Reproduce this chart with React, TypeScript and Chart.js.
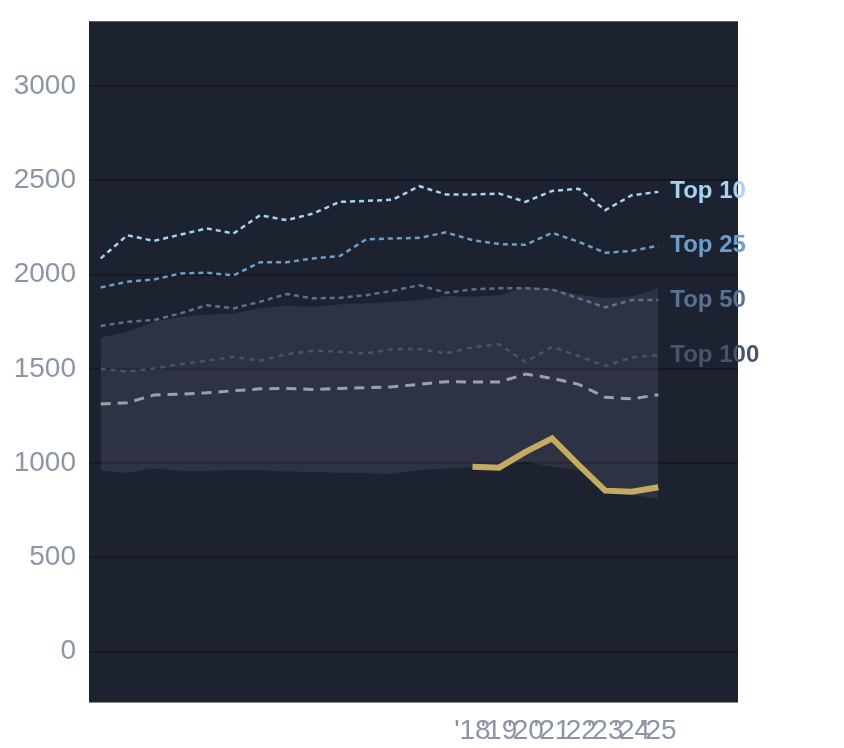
import React, { useRef, useEffect } from "react";
import { Chart, registerables } from "chart.js";

Chart.register(...registerables);

const years = [2004, 2005, 2006, 2007, 2008, 2009, 2010, 2011, 2012, 2013, 2014, 2015, 2016, 2017, 2018, 2019, 2020, 2021, 2022, 2023, 2024, 2025];
const top10 = [2086, 2209, 2179, 2212, 2245, 2218, 2315, 2289, 2324, 2386, 2391, 2398, 2469, 2425, 2425, 2430, 2386, 2444, 2455, 2342, 2421, 2439];
const top25 = [1932, 1962, 1974, 2006, 2010, 1996, 2066, 2066, 2086, 2098, 2187, 2192, 2195, 2224, 2183, 2162, 2158, 2222, 2174, 2116, 2126, 2153];
const top50 = [1727, 1750, 1759, 1794, 1838, 1821, 1856, 1897, 1874, 1877, 1891, 1914, 1944, 1904, 1921, 1928, 1928, 1921, 1874, 1826, 1865, 1865];
const top100 = [1500, 1485, 1502, 1525, 1543, 1564, 1543, 1578, 1596, 1591, 1582, 1605, 1605, 1582, 1614, 1631, 1536, 1617, 1568, 1515, 1561, 1573];
const median = [1313, 1320, 1361, 1366, 1373, 1384, 1394, 1396, 1391, 1396, 1400, 1405, 1418, 1432, 1430, 1430, 1472, 1450, 1418, 1349, 1341, 1363];
const bandHigh = [1667, 1697, 1750, 1776, 1789, 1794, 1821, 1835, 1829, 1843, 1847, 1856, 1865, 1886, 1882, 1890, 1935, 1925, 1895, 1875, 1882, 1928];
const bandLow = [960, 949, 972, 960, 960, 963, 963, 956, 953, 949, 946, 943, 963, 972, 978, 981, 1007, 981, 963, 845, 831, 808];

const goldYears = [2018, 2019, 2020, 2021, 2022, 2023, 2024, 2025];
const goldValues = [981, 976, 1060, 1131, 990, 854, 848, 872];

const xTicks = [2018, 2019, 2020, 2021, 2022, 2023, 2024, 2025];
const yTicks = [0, 500, 1000, 1500, 2000, 2500, 3000];

const pts = (xs: number[], ys: number[]) => xs.map((x, i) => ({ x, y: ys[i] }));

const plotBg = {
  id: "plotBg",
  beforeDraw(chart: any) {
    const { ctx, chartArea } = chart;
    ctx.save();
    ctx.fillStyle = "#1d2230";
    ctx.fillRect(chartArea.left, chartArea.top, chartArea.right - chartArea.left, chartArea.bottom - chartArea.top);
    ctx.restore();
  },
};

// names at the end of each tier line
const endLabels = {
  id: "endLabels",
  afterDatasetsDraw(chart: any) {
    const { ctx } = chart;
    ctx.save();
    ctx.font = "bold 24px 'Liberation Sans', Arial, sans-serif";
    ctx.textBaseline = "middle";
    ctx.textAlign = "left";
    chart.data.datasets.forEach((ds: any, i: number) => {
      if (!ds.tag) return;
      const meta = chart.getDatasetMeta(i);
      const last = meta.data[meta.data.length - 1];
      ctx.fillStyle = ds.borderColor;
      ctx.fillText(ds.tag, last.x + 12, last.y);
    });
    ctx.restore();
  },
};

const App = () => {
  const canvasRef = useRef<HTMLCanvasElement>(null);
  const chartRef = useRef<Chart | null>(null);

  useEffect(() => {
    const canvas = canvasRef.current;
    if (!canvas) return;
    if (chartRef.current) chartRef.current.destroy();

    const tier = (tag: string, data: number[], color: string, width: number, dash: number[], order: number) => ({
      tag,
      data: pts(years, data),
      borderColor: color,
      borderWidth: width,
      borderDash: dash,
      pointRadius: 0,
      fill: false,
      order,
    });

    chartRef.current = new Chart(canvas, {
      type: "line",
      data: {
        datasets: [
          {
            data: pts(goldYears, goldValues),
            borderColor: "#c4ab62",
            borderWidth: 6,
            pointRadius: 0,
            fill: false,
            order: 0,
          },
          tier("Top 10", top10, "#a3d3f5", 2.5, [5, 4], 1),
          tier("Top 25", top25, "#6b9ecb", 2.5, [5, 4], 2),
          tier("Top 50", top50, "#5a7193", 2.5, [5, 4], 3),
          tier("Top 100", top100, "#47546c", 2.5, [5, 5], 4),
          {
            data: pts(years, median),
            borderColor: "#9ba1ac",
            borderWidth: 3,
            borderDash: [10, 7],
            pointRadius: 0,
            fill: false,
            order: 5,
          },
          {
            data: pts(years, bandLow),
            borderWidth: 0,
            borderColor: "rgba(0,0,0,0)",
            pointRadius: 0,
            fill: false,
            order: 7,
          },
          {
            data: pts(years, bandHigh),
            borderWidth: 0,
            borderColor: "rgba(0,0,0,0)",
            backgroundColor: "rgba(200,210,240,0.1)",
            pointRadius: 0,
            fill: "-1",
            order: 6,
          },
        ] as any,
      },
      options: {
        responsive: true,
        maintainAspectRatio: false,
        animation: false,
        layout: { padding: { top: 0, right: 98, left: 0, bottom: 0 } },
        plugins: {
          legend: { display: false },
          tooltip: { enabled: false },
        },
        elements: { line: { tension: 0 } },
        scales: {
          x: {
            type: "linear",
            min: 2003.56,
            max: 2028.0,
            grid: { display: false },
            border: { display: false },
            afterBuildTicks: (scale: any) => {
              scale.ticks = xTicks.map((v) => ({ value: v }));
            },
            afterFit: (scale: any) => {
              scale.height = 37.5;
            },
            ticks: {
              autoSkip: false,
              maxRotation: 0,
              minRotation: 0,
              padding: 4,
              color: "#8b95a6",
              font: { size: 28, family: "'Liberation Sans', Arial, sans-serif" },
              callback: (v: any) => "'" + String(v).slice(2),
            },
          },
          y: {
            min: -270,
            max: 3344,
            grid: { color: "rgba(0,0,0,0.28)", lineWidth: 2, drawTicks: false },
            border: { display: false },
            afterBuildTicks: (scale: any) => {
              scale.ticks = yTicks.map((v) => ({ value: v }));
            },
            afterFit: (scale: any) => {
              scale.width = 81;
            },
            ticks: {
              padding: 13,
              color: "#8b95a6",
              font: { size: 28, lineHeight: 0.02, family: "'Liberation Sans', Arial, sans-serif" },
              callback: (v: any) => String(v),
            },
          },
        },
      },
      plugins: [plotBg, endLabels],
    });

    return () => {
      chartRef.current?.destroy();
      chartRef.current = null;
    };
  }, []);

  return (
    <div style={{ width: "100%", height: "732px" }}>
      <canvas ref={canvasRef} />
    </div>
  );
};

export default App;
